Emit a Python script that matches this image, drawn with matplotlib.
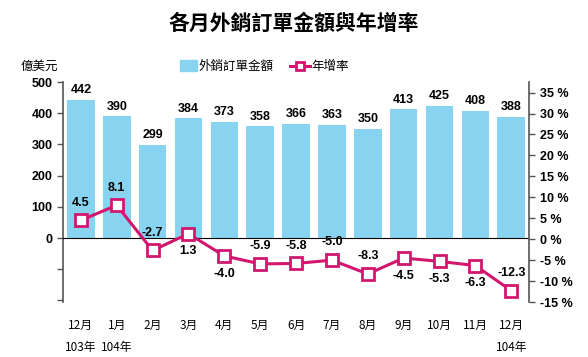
import matplotlib.pyplot as plt
import numpy as np
from matplotlib.patches import Rectangle
from matplotlib.lines import Line2D

months = ['12月', '1月', '2月', '3月', '4月', '5月', '6月', '7月', '8月', '9月', '10月', '11月', '12月']
years = ['103年', '104年', '', '', '', '', '', '', '', '', '', '', '104年']
orders = [442, 390, 299, 384, 373, 358, 366, 363, 350, 413, 425, 408, 388]
growth = [4.5, 8.1, -2.7, 1.3, -4.0, -5.9, -5.8, -5.0, -8.3, -4.5, -5.3, -6.3, -12.3]
# label above (1) or below (-1) the marker
growth_pos = [1, 1, 1, -1, -1, 1, 1, 1, 1, -1, -1, -1, 1]

cjk = ['Noto Sans CJK TC', 'DejaVu Sans']
num = ['Liberation Sans Narrow', 'Liberation Sans', 'DejaVu Sans']
bar_color = '#87D3F0'
line_color = '#D3156E'

fig = plt.figure(figsize=(5.88, 3.57), dpi=100)
ax = fig.add_axes([0.107, 0.154, 0.793, 0.616])
ax2 = ax.twinx()

x = np.arange(len(months))
ax.bar(x, orders, width=0.77, color=bar_color, zorder=2)
for xi, v in zip(x, orders):
    ax.text(xi, v + 12, str(v), ha='center', va='bottom', fontsize=9,
            fontweight='bold', family=num)

ax.set_xlim(-0.5, len(months) - 0.5)
ax.set_ylim(-205, 500)
ax.set_yticks([-200, -100, 0, 100, 200, 300, 400, 500])
ax.set_yticklabels(['', '', '0', '100', '200', '300', '400', '500'])
ax.axhline(0, color='black', lw=0.8, zorder=3)

ax2.plot(x, growth, color=line_color, lw=2.2, marker='s', markersize=8,
         markerfacecolor='white', markeredgecolor=line_color, markeredgewidth=2,
         zorder=5)
for xi, v, p in zip(x, growth, growth_pos):
    off = 2.8 if p > 0 else -2.8
    ax2.text(xi, v + off, '%.1f' % v, ha='center', va='bottom' if p > 0 else 'top',
             fontsize=9, fontweight='bold', family=num)
ax2.set_ylim(-15, 37.5)
ax2.set_yticks(range(-15, 40, 5))
ax2.set_yticklabels(['%d %%' % t for t in range(-15, 40, 5)])

for a in (ax, ax2):
    for s in ['top', 'bottom']:
        a.spines[s].set_visible(False)
    a.tick_params(axis='x', length=0)
    a.tick_params(axis='y', length=4, width=1, color='#555555')
ax.spines['left'].set_color('#555555')
ax.spines['left'].set_linewidth(1.2)
ax2.spines['right'].set_color('#555555')
ax2.spines['right'].set_linewidth(1.2)
ax.spines['right'].set_visible(False)
ax2.spines['left'].set_visible(False)

for lab in ax.get_yticklabels() + ax2.get_yticklabels():
    lab.set_family(num)
    lab.set_fontweight('bold')
    lab.set_fontsize(9)

ax.set_xticks(x)
ax.set_xticklabels([m + '\n' + y for m, y in zip(months, years)], family=cjk,
                   fontsize=8.5, linespacing=1.9)
ax.tick_params(axis='x', pad=12)

fig.text(0.5, 0.935, '各月外銷訂單金額與年增率', ha='center', va='center',
         fontsize=15, fontweight='bold', family=cjk)
fig.text(0.035, 0.815, '億美元', ha='left', va='center', fontsize=9, family=cjk)

# legend
fig.patches.append(Rectangle((0.306, 0.8), 0.029, 0.032, transform=fig.transFigure,
                             color=bar_color))
fig.text(0.337, 0.815, '外銷訂單金額', ha='left', va='center', fontsize=9, family=cjk)
fig.lines.append(Line2D([0.493, 0.51, 0.527], [0.815, 0.815, 0.815],
                        transform=fig.transFigure,
                        color=line_color, lw=2.2, marker='s', markersize=6,
                        markevery=[1], markerfacecolor='white',
                        markeredgecolor=line_color, markeredgewidth=2))
fig.text(0.53, 0.815, '年增率', ha='left', va='center', fontsize=9, family=cjk)

plt.savefig('out.png', dpi=100)
